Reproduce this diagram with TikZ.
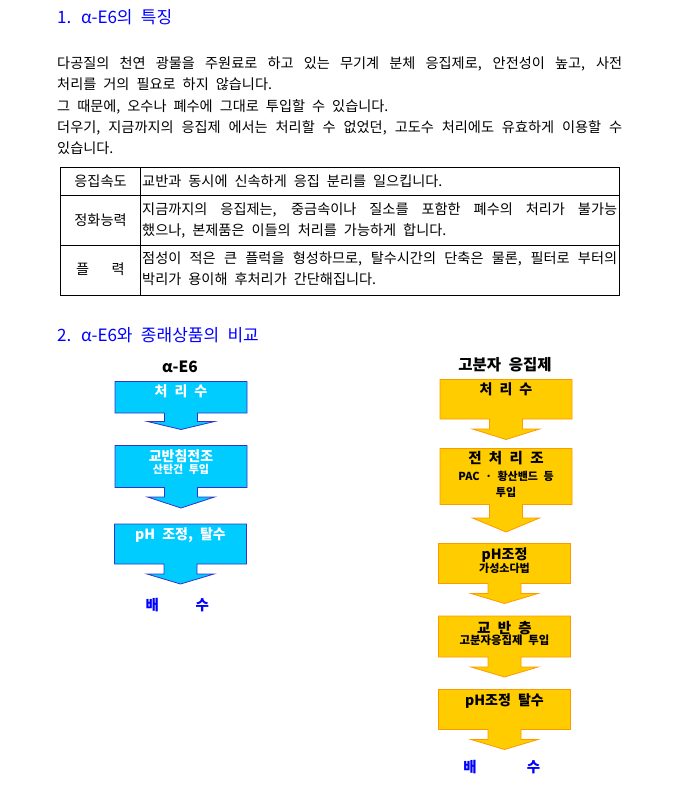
\documentclass[tikz,border=0pt]{standalone}
\usepackage{fontspec}
\setmainfont{Noto Sans CJK KR}[WordSpace=2.2]
\definecolor{headblue}{RGB}{0,0,255}
\definecolor{cyanfill}{RGB}{0,204,255}
\definecolor{cyanline}{RGB}{51,51,204}
\definecolor{goldfill}{RGB}{255,204,0}
\definecolor{goldline}{RGB}{255,153,0}
\newcommand{\calloutshape}[6]{%
  \draw[#1] ({#2-66},#3) -- ({#2+66},#3) -- ({#2+66},#4) -- ({#2+16.5},#4) -- ({#2+16.5},#5) -- ({#2+33.5},#5) -- (#2,#6) -- ({#2-33.5},#5) -- ({#2-16.5},#5) -- ({#2-16.5},#4) -- ({#2-66},#4) -- cycle;}
\tikzset{
  body/.style={inner sep=0pt, anchor=base west, font=\fontsize{14.2}{14.2}\selectfont},
  heading/.style={inner sep=0pt, anchor=base west, text=headblue, font=\fontsize{17}{17}\selectfont},
  cell/.style={inner sep=0pt, anchor=base, font=\fontsize{14.2}{14.2}\selectfont},
  cyanbox/.style={fill=cyanfill, draw=cyanline, line width=0.8pt, line join=miter},
  goldbox/.style={fill=goldfill, draw=goldline, line width=0.8pt, line join=miter},
  boxtxt/.style={inner sep=0pt, anchor=base, font=\bfseries\fontsize{14}{14}\selectfont},
  smalltxt/.style={inner sep=0pt, anchor=base, font=\bfseries\fontsize{11}{11}\selectfont},
  coltitle/.style={inner sep=0pt, anchor=base, font=\bfseries\fontsize{15.5}{15.5}\selectfont},
  outtxt/.style={inner sep=0pt, anchor=base, text=headblue, font=\bfseries\fontsize{14.5}{14.5}\selectfont},
  grid/.style={draw=black, line width=0.8pt}
}
\begin{document}
\begin{tikzpicture}[x=1pt,y=-1pt]
\useasboundingbox[fill=white] (0,0) rectangle (700,788);
% section 1
\node[heading] (h1) at (57,23.6) {1. α-E6의 특징};
\node[body] (p1) at (57,68.3) {\makebox[565pt][s]{다공질의 천연 광물을 주원료로 하고 있는 무기계 분체 응집제로, 안전성이 높고, 사전}};
\node[body] (p2) at (57,89.8) {처리를 거의 필요로 하지 않습니다.};
\node[body] (p3) at (57,111.3) {그 때문에, 오수나 폐수에 그대로 투입할 수 있습니다.};
\node[body] (p4) at (57,132.3) {\makebox[565pt][s]{더우기, 지금까지의 응집제 에서는 처리할 수 없었던, 고도수 처리에도 유효하게 이용할 수}};
\node[body] (p5) at (57,153.3) {있습니다.};
% table
\draw[grid] (60.5,167.5) rectangle (619.5,295.5);
\draw[grid] (60.5,195) -- (619.5,195);
\draw[grid] (60.5,245.5) -- (619.5,245.5);
\draw[grid] (140,167.5) -- (140,295.5);
\node[cell] (k1) at (100.5,186.3) {응집속도};
\node[cell] (k2) at (100.5,225.3) {정화능력};
\node[cell] (k3) at (100.5,274.8) {플\hspace{22.4pt}력};
\node[body] (v1) at (142,186.3) {교반과 동시에 신속하게 응집 분리를 일으킵니다.};
\node[body] (v2a) at (142,214.8) {\makebox[475pt][s]{지금까지의 응집제는, 중금속이나 질소를 포함한 폐수의 처리가 불가능}};
\node[body] (v2b) at (142,235.8) {했으나, 본제품은 이들의 처리를 가능하게 합니다.};
\node[body] (v3a) at (142,263.3) {\makebox[475pt][s]{점성이 적은 큰 플럭을 형성하므로, 탈수시간의 단축은 물론, 필터로 부터의}};
\node[body] (v3b) at (142,284.3) {박리가 용이해 후처리가 간단해집니다.};
% section 2
\node[heading] (h2) at (57,341.3) {2. α-E6와 종래상품의 비교};
% left column
\node[coltitle] (lt) at (180,372.5) {α-E6};
\calloutshape{cyanbox}{181}{381.5}{413}{421.5}{429.5}
\calloutshape{cyanbox}{181}{445.5}{487.5}{497}{508}
\calloutshape{cyanbox}{180.5}{524}{564}{574}{584}
\node[boxtxt, text=white] (l1) at (181,396.8) {처 리 수};
\node[boxtxt, text=white] (l2a) at (181,461.1) {교반침전조};
\node[smalltxt, text=white] (l2b) at (181,473.1) {산탄건 투입};
\node[boxtxt, text=white] (l3) at (180.5,539.1) {pH 조정, 탈수};
\node[outtxt] (lo) at (177.3,610.3) {배\hspace{36.8pt}수};
% right column
\node[coltitle] (rt) at (505,370.5) {고분자 응집제};
\calloutshape{goldbox}{506}{379.5}{419}{429}{439.5}
\calloutshape{goldbox}{506}{448.5}{504.5}{518}{532}
\calloutshape{goldbox}{504.5}{543.5}{583.5}{593.5}{603.5}
\calloutshape{goldbox}{504.5}{616}{657}{667}{677}
\calloutshape{goldbox}{504.5}{689.5}{729.5}{739.5}{749.5}
\node[boxtxt] (r1) at (506,394.1) {처 리 수};
\node[boxtxt, font=\bfseries\fontsize{14.5}{14.5}\selectfont] (r2a) at (506,463.3) {전 처 리 조};
\node[smalltxt] (r2b) at (506,480.1) {PAC · 황산밴드 등};
\node[smalltxt] (r2c) at (506,496.7) {투입};
\node[boxtxt] (r3a) at (504.5,559.1) {pH조정};
\node[smalltxt] (r3b) at (504.5,572.4) {가성소다법};
\node[boxtxt, font=\bfseries\fontsize{14.5}{14.5}\selectfont] (r4a) at (504.5,633) {교 반 층};
\node[smalltxt, font=\bfseries\fontsize{11.4}{11.4}\selectfont] (r4b) at (504.5,644.9) {고분자응집제 투입};
\node[boxtxt] (r5) at (504.5,705.8) {pH조정 탈수};
\node[outtxt] (ro) at (501.7,772) {배\hspace{50.2pt}수};
\end{tikzpicture}
\end{document}
